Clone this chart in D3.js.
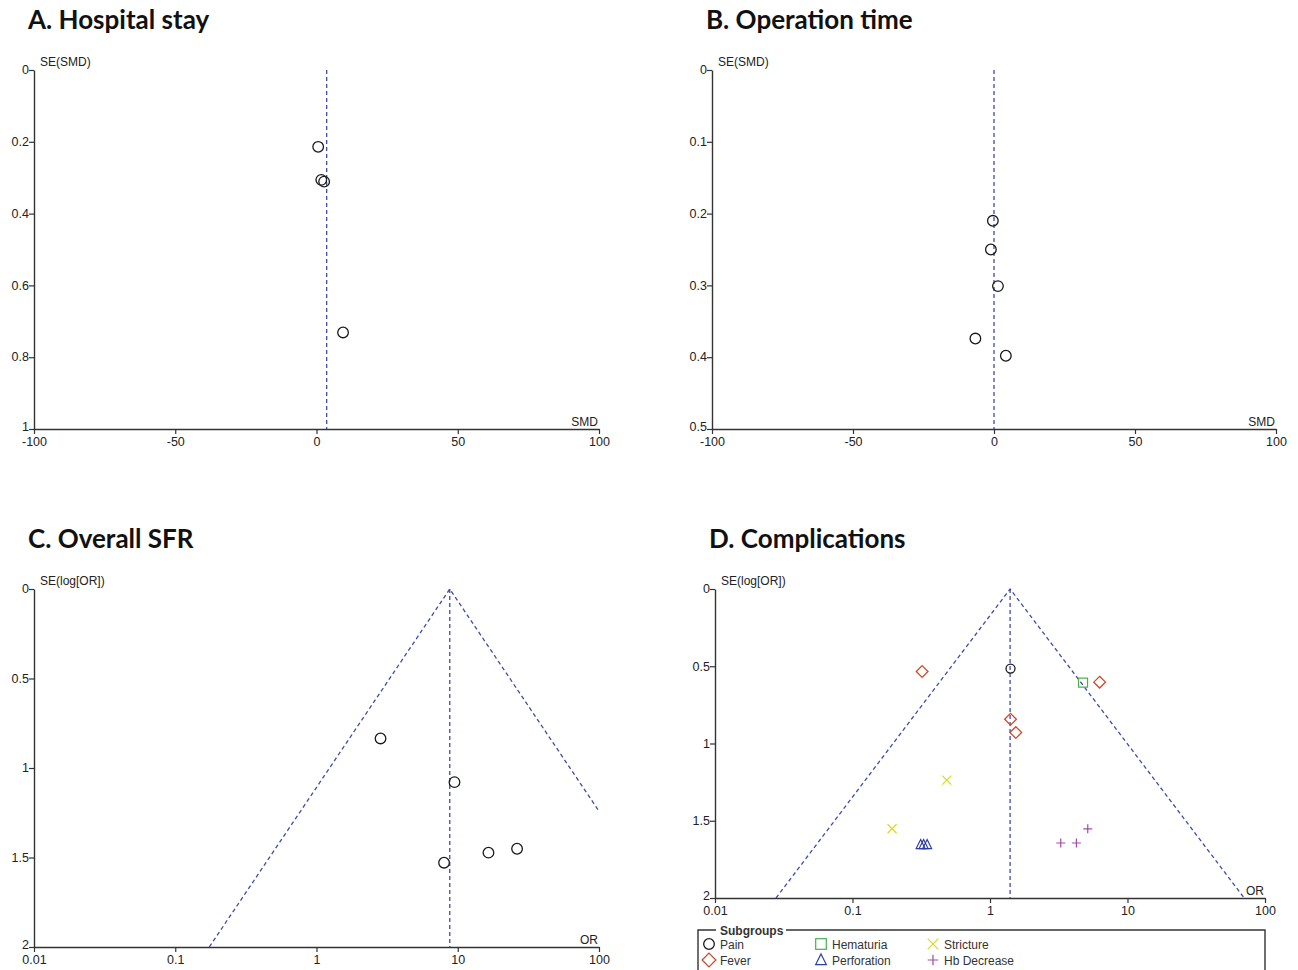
<!DOCTYPE html>
<html>
<head>
<meta charset="utf-8">
<script src="https://cdn.jsdelivr.net/npm/d3@7"></script>
<style>
  html, body { margin: 0; padding: 0; background: #fff; }
  svg { display: block; }
  .tick text { font-family: "Liberation Sans", Arial, sans-serif; font-size: 12.5px; fill: #222; }
</style>
</head>
<body>
<svg id="chart" width="1298" height="970"></svg>
<script>
// ---------------- DATA ----------------
const panelTitles = ["A. Hospital stay", "B. Operation time", "C. Overall SFR", "D. Complications"];

// A. Hospital stay
const hospitalSMD = [0.6, 1.7, 2.7, 9.4];
const hospitalSE = [0.214, 0.306, 0.311, 0.731];
const hospitalPooled = 3.6;
const hospitalXTicks = [-100, -50, 0, 50, 100];
const hospitalYTicks = [0, 0.2, 0.4, 0.6, 0.8, 1];

// B. Operation time
const operationSMD = [-0.4, -1.1, 1.4, -6.6, 4.2];
const operationSE = [0.210, 0.250, 0.301, 0.374, 0.398];
const operationPooled = 0;
const operationXTicks = [-100, -50, 0, 50, 100];
const operationYTicks = [0, 0.1, 0.2, 0.3, 0.4, 0.5];

// C. Overall SFR
const sfrOR = [2.84, 9.48, 8.0, 16.5, 26.3];
const sfrSE = [0.835, 1.079, 1.529, 1.473, 1.451];
const sfrPooled = 8.78;
const orXTicks = [0.01, 0.1, 1, 10, 100];
const orXTickLabels = ["0.01", "0.1", "1", "10", "100"];
const orYTicks = [0, 0.5, 1, 1.5, 2];
const orYTickLabels = ["0", "0.5", "1", "1.5", "2"];

// D. Complications
const complicationGroups = ["Pain", "Fever", "Hematuria", "Perforation", "Stricture", "Hb Decrease"];
const complicationOR = [1.41, 0.321, 6.27, 1.41, 1.54, 4.75, 0.485, 0.194, 0.313, 0.329, 0.349, 3.27, 4.25, 5.14];
const complicationSE = [0.515, 0.534, 0.603, 0.843, 0.929, 0.606, 1.237, 1.552, 1.655, 1.655, 1.655, 1.644, 1.644, 1.552];
const complicationGroup = ["Pain", "Fever", "Fever", "Fever", "Fever", "Hematuria", "Stricture", "Stricture",
  "Perforation", "Perforation", "Perforation", "Hb Decrease", "Hb Decrease", "Hb Decrease"];
const complicationPooled = 1.40;
const legendOrder = ["Pain", "Fever", "Hematuria", "Perforation", "Stricture", "Hb Decrease"];

// ---------------- STYLE ----------------
const groupColor = {
  "Pain": "#1a1a1a", "Fever": "#cc4a2c", "Hematuria": "#4cae4c",
  "Perforation": "#2e3da6", "Stricture": "#d8d820", "Hb Decrease": "#a24aa8"
};
const groupSymbol = {
  "Pain": "circle", "Fever": "diamond", "Hematuria": "square",
  "Perforation": "triangle", "Stricture": "cross", "Hb Decrease": "plus"
};
const dashColor = "#3f4ca6";
const axisColor = "#333";
const fontFam = '"Liberation Sans", Arial, sans-serif';
const titleFont = 'Lato, "Open Sans", sans-serif';

const svg = d3.select("#chart");

function markerPath(g, type, x, y, size, color) {
  const s = size;
  if (type === "circle") {
    g.append("circle").attr("cx", x).attr("cy", y).attr("r", s)
      .attr("fill", "none").attr("stroke", color).attr("stroke-width", 1.3);
  } else if (type === "diamond") {
    const d = s * 1.3;
    g.append("path").attr("d", `M${x},${y - d}L${x + d},${y}L${x},${y + d}L${x - d},${y}Z`)
      .attr("fill", "none").attr("stroke", color).attr("stroke-width", 1.3);
  } else if (type === "square") {
    g.append("rect").attr("x", x - s).attr("y", y - s).attr("width", 2 * s).attr("height", 2 * s)
      .attr("fill", "none").attr("stroke", color).attr("stroke-width", 1.2);
  } else if (type === "triangle") {
    const h = s * 1.15;
    g.append("path").attr("d", `M${x},${y - h}L${x + s},${y + h * 0.75}L${x - s},${y + h * 0.75}Z`)
      .attr("fill", "none").attr("stroke", color).attr("stroke-width", 1.2);
  } else if (type === "cross") {
    g.append("path").attr("d", `M${x - s},${y - s}L${x + s},${y + s}M${x - s},${y + s}L${x + s},${y - s}`)
      .attr("fill", "none").attr("stroke", color).attr("stroke-width", 1.2);
  } else if (type === "plus") {
    g.append("path").attr("d", `M${x - s},${y}L${x + s},${y}M${x},${y - s}L${x},${y + s}`)
      .attr("fill", "none").attr("stroke", color).attr("stroke-width", 1.2);
  }
}

function drawPanel(cfg) {
  const g = svg.append("g");
  // title
  g.append("text").attr("x", cfg.titleX).attr("y", cfg.titleY)
    .attr("font-family", titleFont).attr("font-weight", "bold").attr("font-size", 26)
    .attr("fill", "#111").text(cfg.title);

  const x = cfg.log
    ? d3.scaleLog().domain([0.01, 100]).range([cfg.left, cfg.right])
    : d3.scaleLinear().domain([-100, 100]).range([cfg.left, cfg.right]);
  const y = d3.scaleLinear().domain([0, cfg.yMax]).range([cfg.top, cfg.bottom]);

  const xAxis = d3.axisBottom(x).tickValues(cfg.xTicks).tickSize(5).tickSizeOuter(0)
    .tickFormat((d, i) => cfg.xTickLabels ? cfg.xTickLabels[i] : String(d));
  const yAxis = d3.axisLeft(y).tickValues(cfg.yTicks).tickSize(5).tickSizeOuter(0)
    .tickFormat((d, i) => cfg.yTickLabels ? cfg.yTickLabels[i] : String(d));

  const gx = g.append("g").attr("transform", `translate(0,${cfg.bottom})`).call(xAxis);
  const gy = g.append("g").attr("transform", `translate(${cfg.left},0)`).call(yAxis);
  [gx, gy].forEach(a => {
    a.select(".domain").attr("stroke", axisColor).attr("stroke-width", 1.4);
    a.selectAll(".tick line").attr("stroke", axisColor).attr("stroke-width", 1.2);
  });
  gx.selectAll(".tick text").attr("y", 8).attr("dy", "0.71em");
  gy.selectAll(".tick text").attr("x", -5).attr("dy", "0.3em");
  // shift the bottom-most y tick label up a bit so it clears the x labels
  gy.selectAll(".tick").filter(d => d === cfg.yMax).select("text").attr("dy", "0.1em");

  g.append("text").attr("x", cfg.left + 6).attr("y", cfg.top - 4)
    .attr("font-family", fontFam).attr("font-size", 12).attr("fill", "#222").text(cfg.yLabel);
  g.append("text").attr("x", cfg.right - 1).attr("y", cfg.bottom - 3).attr("text-anchor", "end")
    .attr("font-family", fontFam).attr("font-size", 12).attr("fill", "#222").text(cfg.xLabel);

  const clipId = "clip" + cfg.id;
  svg.append("clipPath").attr("id", clipId).append("rect")
    .attr("x", cfg.left).attr("y", cfg.top - 2).attr("width", cfg.right - cfg.left).attr("height", cfg.bottom - cfg.top + 2);
  const plot = g.append("g").attr("clip-path", `url(#${clipId})`);

  plot.append("line").attr("x1", x(cfg.pooled)).attr("x2", x(cfg.pooled))
    .attr("y1", y(0)).attr("y2", y(cfg.yMax))
    .attr("stroke", dashColor).attr("stroke-width", 1.3).attr("stroke-dasharray", "4,3");

  if (cfg.funnel) {
    const ln = Math.log(cfg.pooled);
    const se = cfg.yMax;
    const lo = Math.exp(ln - 1.96 * se), hi = Math.exp(ln + 1.96 * se);
    const line = d3.line().x(d => x(d[0])).y(d => y(d[1]));
    plot.append("path").attr("d", line([[lo, se], [cfg.pooled, 0], [hi, se]]))
      .attr("fill", "none").attr("stroke", dashColor).attr("stroke-width", 1.3).attr("stroke-dasharray", "4,3");
  }

  const pg = g.append("g");
  cfg.xs.forEach((v, i) => {
    const grp = cfg.groups ? cfg.groups[i] : "Pain";
    markerPath(pg, groupSymbol[grp], x(v), y(cfg.ys[i]), cfg.markerSize, groupColor[grp]);
  });
  return { x, y };
}

drawPanel({ id: "A", title: panelTitles[0], titleX: 28, titleY: 29, left: 34, right: 599, top: 70, bottom: 429,
  yMax: 1, xTicks: hospitalXTicks, yTicks: hospitalYTicks, yLabel: "SE(SMD)", xLabel: "SMD",
  pooled: hospitalPooled, xs: hospitalSMD, ys: hospitalSE, markerSize: 5.3 });

drawPanel({ id: "B", title: panelTitles[1], titleX: 706, titleY: 29, left: 712, right: 1276, top: 70, bottom: 429,
  yMax: 0.5, xTicks: operationXTicks, yTicks: operationYTicks, yLabel: "SE(SMD)", xLabel: "SMD",
  pooled: operationPooled, xs: operationSMD, ys: operationSE, markerSize: 5.3 });

drawPanel({ id: "C", title: panelTitles[2], titleX: 28, titleY: 548, left: 34, right: 599, top: 589, bottom: 947,
  yMax: 2, log: true, xTicks: orXTicks, xTickLabels: orXTickLabels, yTicks: orYTicks, yTickLabels: orYTickLabels,
  yLabel: "SE(log[OR])", xLabel: "OR", funnel: true,
  pooled: sfrPooled, xs: sfrOR, ys: sfrSE, markerSize: 5.3 });

drawPanel({ id: "D", title: panelTitles[3], titleX: 709, titleY: 548, left: 715, right: 1265, top: 589, bottom: 898,
  yMax: 2, log: true, xTicks: orXTicks, xTickLabels: orXTickLabels, yTicks: orYTicks, yTickLabels: orYTickLabels,
  yLabel: "SE(log[OR])", xLabel: "OR", funnel: true,
  pooled: complicationPooled, xs: complicationOR, ys: complicationSE, groups: complicationGroup, markerSize: 4.5 });

// ---------------- LEGEND ----------------
const lg = svg.append("g");
const lx0 = 698, ly0 = 930, lx1 = 1265;
lg.append("path").attr("d", `M${lx0},975L${lx0},${ly0}L${lx1},${ly0}L${lx1},975`)
  .attr("fill", "none").attr("stroke", "#333").attr("stroke-width", 1.4);
lg.append("rect").attr("x", 716).attr("y", ly0 - 2).attr("width", 70).attr("height", 5).attr("fill", "#fff");
lg.append("text").attr("x", 720).attr("y", ly0 + 4.5).attr("font-family", fontFam).attr("font-weight", "bold")
  .attr("font-size", 12).attr("fill", "#333").text("Subgroups");
const colX = [709, 821, 933];
const rowY = [945, 961];
legendOrder.forEach((grp, i) => {
  const col = Math.floor(i / 2), row = i % 2;
  const sx = colX[col], sy = rowY[row];
  markerPath(lg, groupSymbol[grp], sx, sy - 1, 5.3, groupColor[grp]);
  lg.append("text").attr("x", sx + 11).attr("y", sy + 4).attr("font-family", fontFam)
    .attr("font-size", 12).attr("fill", "#333").text(grp);
});
</script>
</body>
</html>
